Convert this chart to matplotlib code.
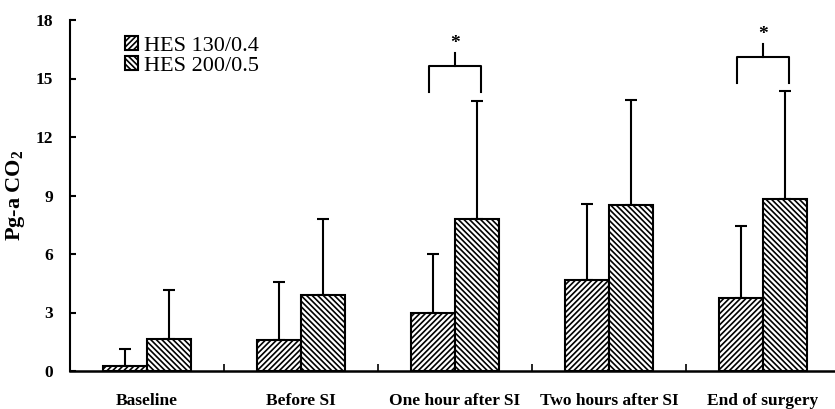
import numpy as np
import matplotlib
matplotlib.use("Agg")
import matplotlib.pyplot as plt

plt.rcParams['font.family'] = ['Liberation Serif', 'DejaVu Serif']
plt.rcParams['mathtext.fontset'] = 'custom'
plt.rcParams['mathtext.rm'] = 'Liberation Serif:bold'
plt.rcParams['mathtext.bf'] = 'Liberation Serif:bold'
plt.rcParams['hatch.linewidth'] = 1.2

# data
groups = ["Baseline", "Before SI", "One hour after SI", "Two hours after SI", "End of surgery"]
series = ["HES 130/0.4", "HES 200/0.5"]
hes130 = [0.28, 1.6, 3.0, 4.67, 3.74]
hes130_sd = [0.85, 2.95, 3.0, 3.9, 3.7]
hes200 = [1.65, 3.9, 7.8, 8.5, 8.82]
hes200_sd = [2.5, 3.9, 6.05, 5.4, 5.55]
# significance brackets: group index, leg bottom, bracket top, stem top
sig = [(2, 14.3, 15.65, 16.3), (4, 14.75, 16.1, 16.75)]

fig = plt.figure(figsize=(8.35, 4.09), dpi=100)
ax = fig.add_axes([70 / 835, 1 - 371 / 409, 765 / 835, 351 / 409])

x = np.arange(len(groups))
w = 0.286
b1 = ax.bar(x - w / 2, hes130, w, color='white', edgecolor='black', hatch='//////',
            linewidth=1.5, label=series[0], zorder=2)
b2 = ax.bar(x + w / 2, hes200, w, color='white', edgecolor='black', hatch='\\' * 6,
            linewidth=1.5, label=series[1], zorder=2)
ax.errorbar(x - w / 2, hes130, yerr=[np.zeros(len(x)), hes130_sd], fmt='none',
            ecolor='black', elinewidth=1.5, capsize=4, capthick=1.5, zorder=1)
ax.errorbar(x + w / 2, hes200, yerr=[np.zeros(len(x)), hes200_sd], fmt='none',
            ecolor='black', elinewidth=1.5, capsize=4, capthick=1.5, zorder=1)

for g, lo, top, stem in sig:
    d = 0.17
    ax.plot([g - d, g - d, g + d, g + d], [lo, top, top, lo], color='black', lw=1.5,
            clip_on=False)
    ax.plot([g, g], [top, stem], color='black', lw=1.5, clip_on=False)
    ax.text(g, stem + 0.05, '*', ha='center', va='bottom', fontsize=14, fontweight='bold')

ax.set_xlim(-0.5, -0.5 + 765 / 154)
ax.set_ylim(0, 18)
ax.set_yticks([0, 3, 6, 9, 12, 15, 18])
ax.set_xticks(x)
ax.set_xticklabels(groups, fontsize=12.5, fontweight='bold')
ax.set_xticks(x[:-1] + 0.5, minor=True)
ax.tick_params(axis='x', which='major', length=0, pad=16)
ax.tick_params(axis='x', which='minor', direction='in', length=5, width=1.2)
ax.tick_params(axis='y', direction='in', length=4, width=1.5, labelsize=12.5, pad=12)
for lab in ax.get_yticklabels():
    lab.set_fontweight('bold')
ax.spines['top'].set_visible(False)
ax.spines['right'].set_visible(False)
ax.spines['left'].set_linewidth(1.5)
ax.spines['bottom'].set_linewidth(1.8)
ax.set_ylabel('Pg-a CO$_{2}$', fontsize=16, fontweight='bold', labelpad=6)

ax.legend(handles=[b1, b2], loc='upper left', bbox_to_anchor=(0.072, 0.955),
          frameon=False, fontsize=16, handlelength=0.6, handleheight=0.6,
          handletextpad=0.25, labelspacing=0.0, borderpad=0, borderaxespad=0)

fig.savefig('out.png', dpi=100)
